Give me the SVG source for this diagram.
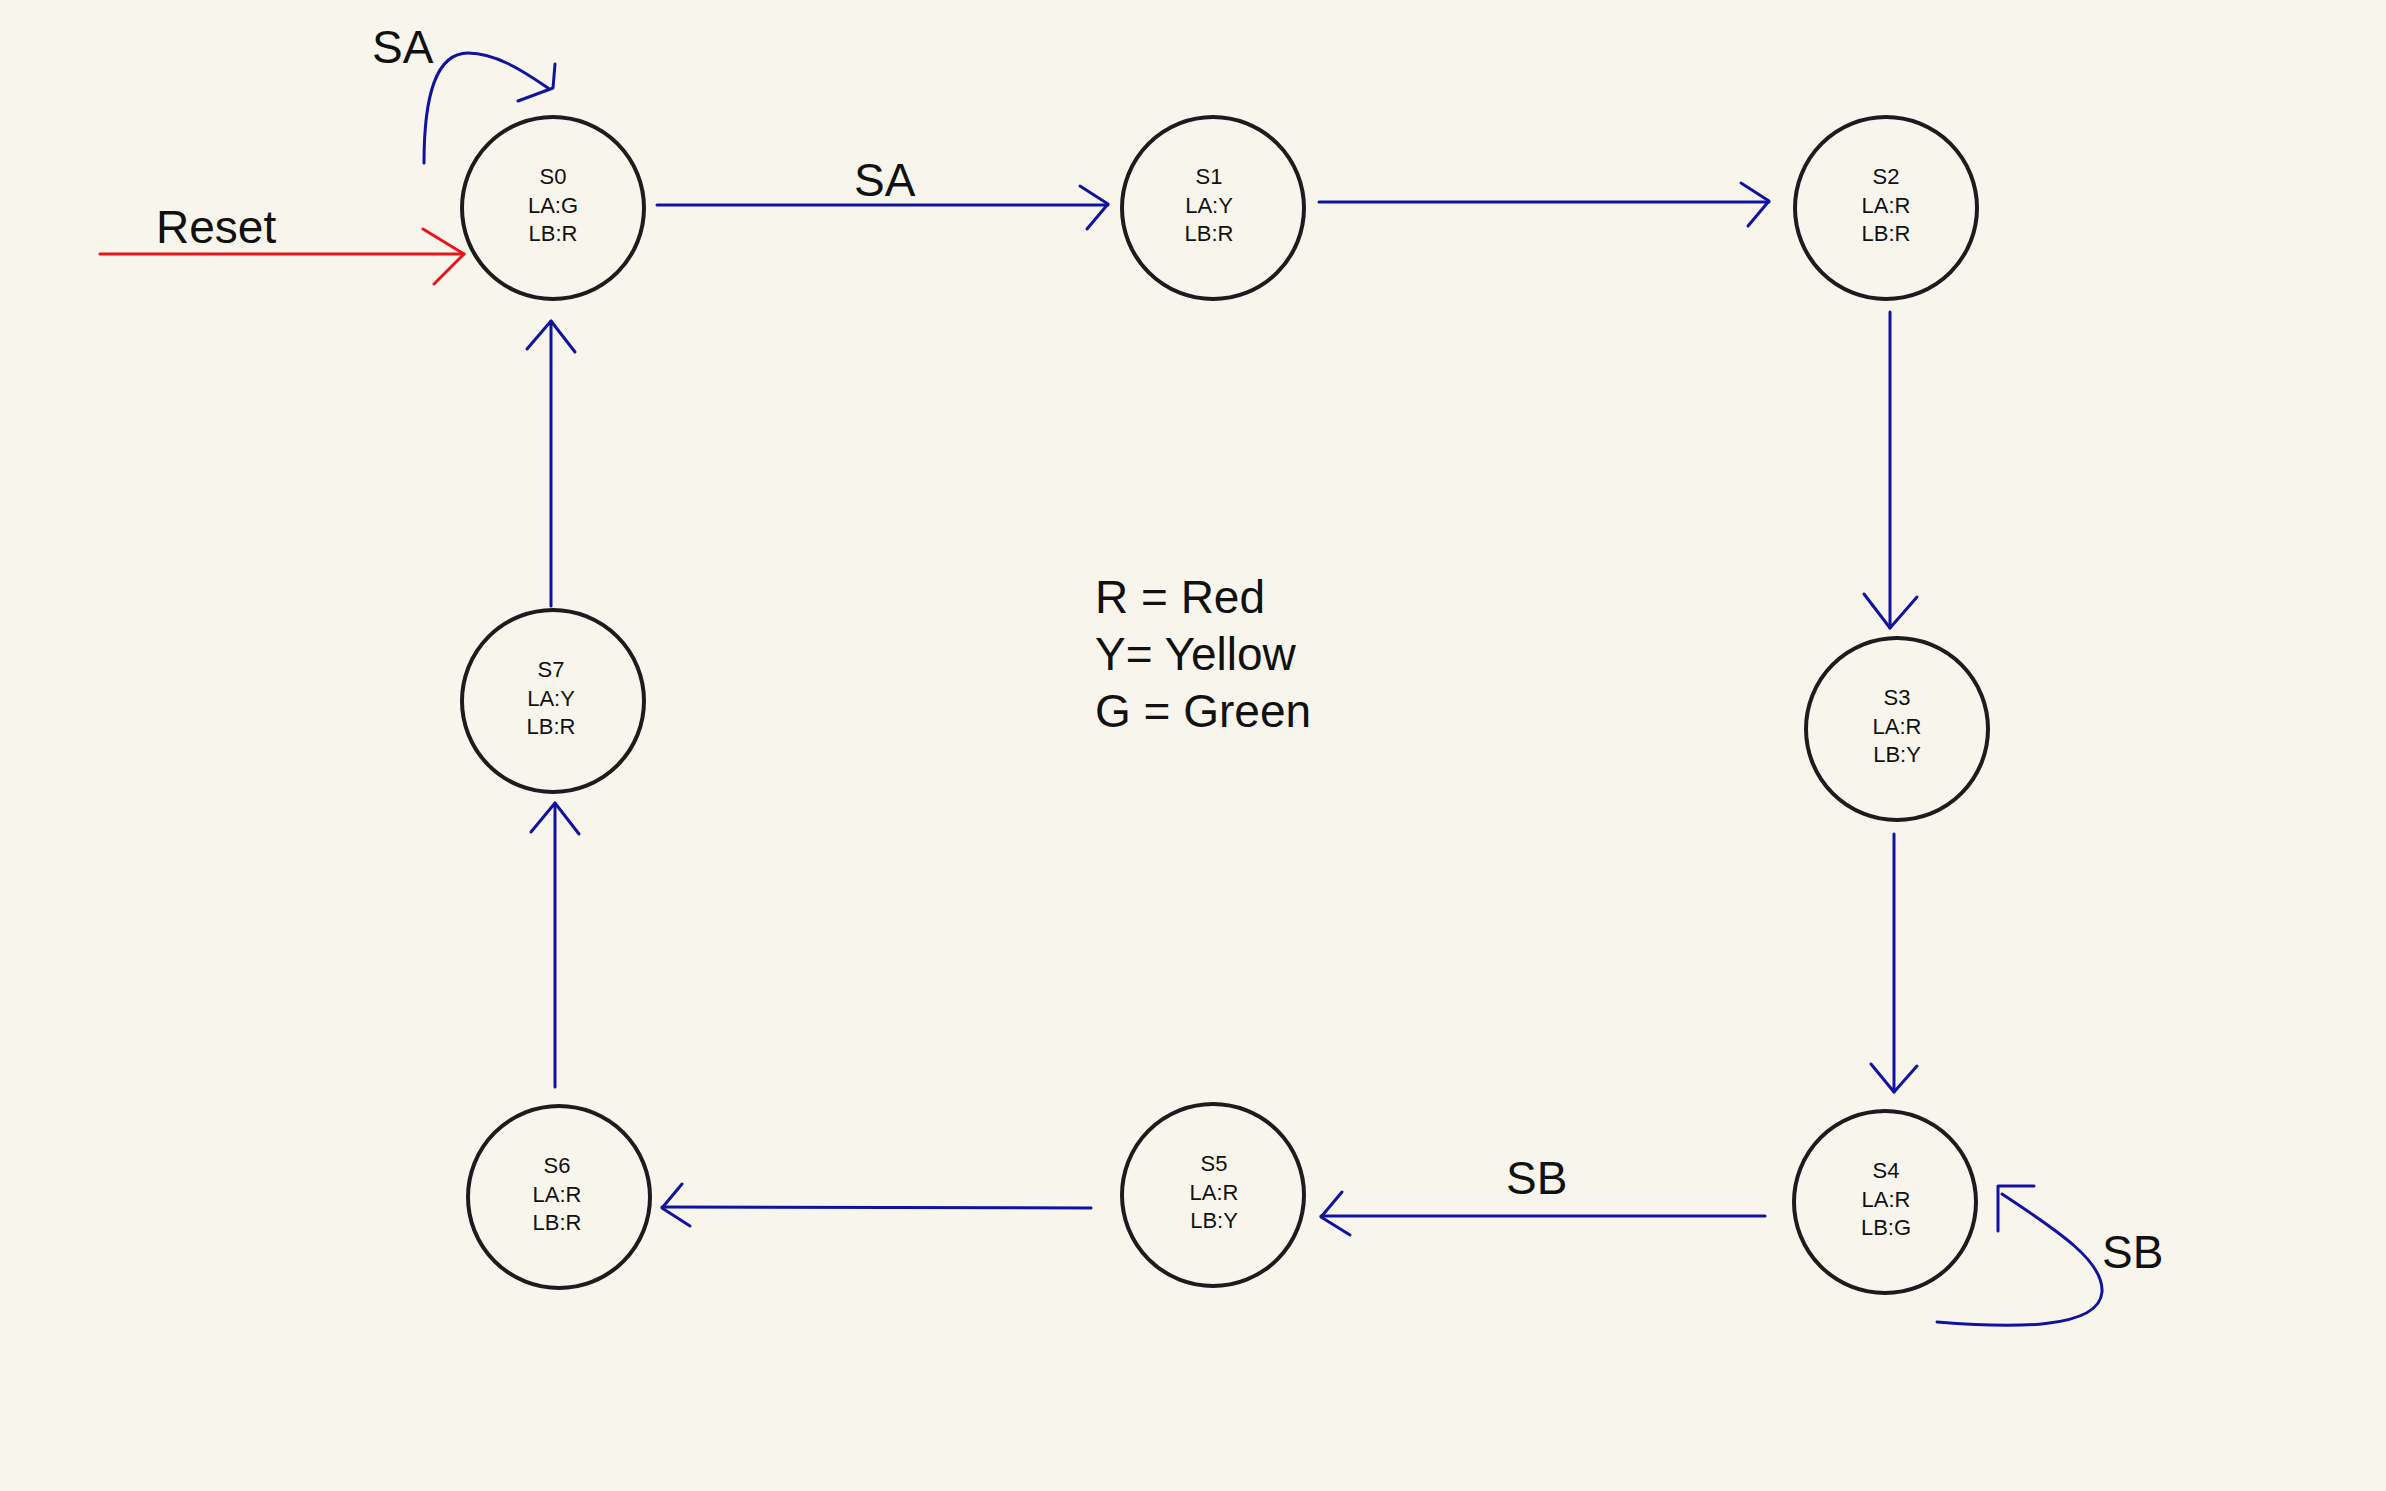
<svg xmlns="http://www.w3.org/2000/svg" width="2386" height="1491" viewBox="0 0 2386 1491">
<style>
.node circle{fill:none;stroke:#1c1c1c;stroke-width:4}
.node text{font-family:"Liberation Sans",Arial,sans-serif;font-size:22px;fill:#111;text-anchor:middle}
.c{fill:none;stroke:#1212a0;stroke-width:3;stroke-linecap:round;stroke-linejoin:round}
.r{fill:none;stroke:#e8161b;stroke-width:3;stroke-linecap:round;stroke-linejoin:round}
.lbl{font-family:"Liberation Sans",Arial,sans-serif;font-size:46px;fill:#111}
.leg{font-family:"Liberation Sans",Arial,sans-serif;font-size:46px;fill:#111}
</style>
<rect width="2386" height="1491" fill="#f8f6ec"/>
<g id="connectors">
<g id="reset">
<path class="r" d="M100 254 H464"/>
<path class="r" d="M423 229 L464 254 L434 284"/>
</g>
<g id="s0-self">
<path class="c" d="M424 163 C424 95 436 53 468 53 C495 53 522 70 548 88"/>
<path class="c" d="M555 64 L553 88 L518 101"/>
</g>
<g id="s0-s1">
<path class="c" d="M657 205 H1108"/>
<path class="c" d="M1080 186 L1108 204 L1087 229"/>
</g>
<g id="s1-s2">
<path class="c" d="M1319 202 H1769"/>
<path class="c" d="M1741 183 L1769 201 L1748 226"/>
</g>
<g id="s2-s3">
<path class="c" d="M1890 312 V628"/>
<path class="c" d="M1864 594 L1890 628 L1917 597"/>
</g>
<g id="s3-s4">
<path class="c" d="M1894 834 V1092"/>
<path class="c" d="M1871 1064 L1894 1092 L1917 1066"/>
</g>
<g id="s4-self">
<path class="c" d="M2002 1194 C2060 1232 2104 1262 2102 1292 C2099 1330 2010 1328 1937 1322"/>
<path class="c" d="M2034 1186 H1998 V1231"/>
</g>
<g id="s4-s5">
<path class="c" d="M1765 1216 H1321"/>
<path class="c" d="M1342 1192 L1321 1217 L1350 1235"/>
</g>
<g id="s5-s6">
<path class="c" d="M1091 1208 L662 1207"/>
<path class="c" d="M682 1184 L662 1208 L690 1226"/>
</g>
<g id="s6-s7">
<path class="c" d="M555 1087 V803"/>
<path class="c" d="M531 832 L555 803 L579 834"/>
</g>
<g id="s7-s0">
<path class="c" d="M551 606 V321"/>
<path class="c" d="M527 349 L551 321 L575 352"/>
</g>
</g>
<g id="labels">
<text class="lbl" x="156" y="243">Reset</text>
<text class="lbl" x="372" y="63">SA</text>
<text class="lbl" x="854" y="196">SA</text>
<text class="lbl" x="1506" y="1194">SB</text>
<text class="lbl" x="2102" y="1268">SB</text>
</g>
<g id="legend">
<text class="leg" x="1095" y="613">R = Red</text>
<text class="leg" x="1095" y="670">Y= Yellow</text>
<text class="leg" x="1095" y="727">G = Green</text>
</g>
<g id="S0" class="node"><circle cx="553" cy="208" r="91"/><text x="553" y="184">S0</text><text x="553" y="213">LA:G</text><text x="553" y="241">LB:R</text></g>
<g id="S1" class="node"><circle cx="1213" cy="208" r="91"/><text x="1209" y="184">S1</text><text x="1209" y="213">LA:Y</text><text x="1209" y="241">LB:R</text></g>
<g id="S2" class="node"><circle cx="1886" cy="208" r="91"/><text x="1886" y="184">S2</text><text x="1886" y="213">LA:R</text><text x="1886" y="241">LB:R</text></g>
<g id="S3" class="node"><circle cx="1897" cy="729" r="91"/><text x="1897" y="705">S3</text><text x="1897" y="734">LA:R</text><text x="1897" y="762">LB:Y</text></g>
<g id="S4" class="node"><circle cx="1885" cy="1202" r="91"/><text x="1886" y="1178">S4</text><text x="1886" y="1207">LA:R</text><text x="1886" y="1235">LB:G</text></g>
<g id="S5" class="node"><circle cx="1213" cy="1195" r="91"/><text x="1214" y="1171">S5</text><text x="1214" y="1200">LA:R</text><text x="1214" y="1228">LB:Y</text></g>
<g id="S6" class="node"><circle cx="559" cy="1197" r="91"/><text x="557" y="1173">S6</text><text x="557" y="1202">LA:R</text><text x="557" y="1230">LB:R</text></g>
<g id="S7" class="node"><circle cx="553" cy="701" r="91"/><text x="551" y="677">S7</text><text x="551" y="706">LA:Y</text><text x="551" y="734">LB:R</text></g>
</svg>
